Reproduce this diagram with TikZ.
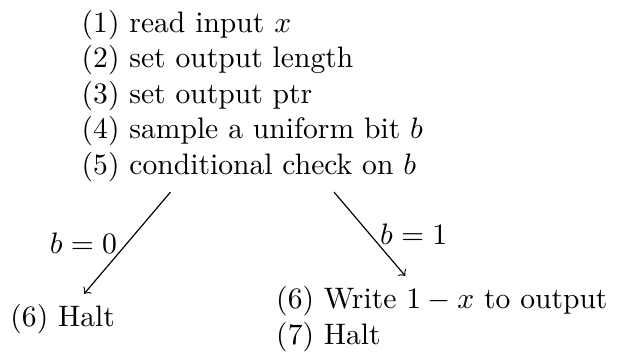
\documentclass[tikz,border=0pt]{standalone}
\begin{document}
\begin{tikzpicture}[
  stepnode/.style={align=left},
  branch/.style={->}]
\node[stepnode] (p) at (0,0) {(1) read input $x$\\(2) set output length\\(3) set output ptr\\(4) sample a uniform bit $b$\\(5) conditional check on $b$};
\node[stepnode] (c0) at (-2.25cm,-2.65cm) {(6) Halt};
\node[stepnode] (c1) at (2.25cm,-2.65cm) {(6) Write $1-x$ to output\\(7) Halt};
\draw[branch] (p) -- node[left] (lb0) {$b=0$} (c0);
\draw[branch] (p) -- node[right] (lb1) {$b=1$} (c1);
\useasboundingbox ([yshift=-2pt]p.north -| c0.west) rectangle ([yshift=2pt]c1.south -| c1.east);
\end{tikzpicture}
\end{document}
